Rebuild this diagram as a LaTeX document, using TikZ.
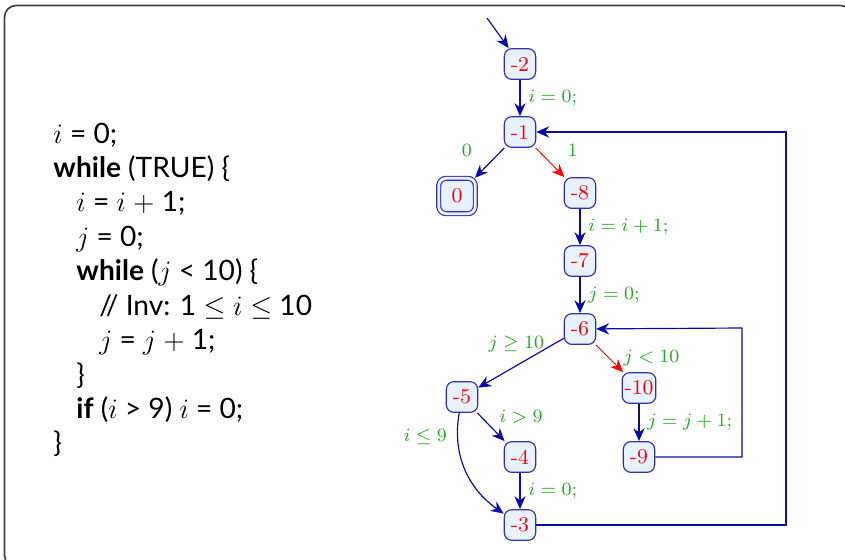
\documentclass[tikz,border=0pt]{standalone}
\usepackage{amsmath,amssymb}
\usepackage{xcolor}
\usepackage{fontspec}
\newfontfamily\codefont{Lato}
\usepackage{tikz}
\usetikzlibrary{arrows.meta,positioning}

\definecolor{statedraw}{RGB}{50,50,175}
\definecolor{statefill}{RGB}{232,242,255}
\definecolor{lblgreen}{RGB}{40,165,40}
\definecolor{flowblue}{RGB}{10,10,165}

\newcommand{\ind}{\hspace*{0.345cm}}

\begin{document}
\begin{tikzpicture}[x=0.015cm, y=-0.015cm,
  state/.style={draw=statedraw, fill=statefill, text=red, rounded corners=3.2pt,
    minimum width=0.47cm, minimum height=0.46cm, inner sep=1pt, line width=0.5pt,
    font=\fontsize{9}{10}\selectfont},
  final/.style={state, double=statefill, double distance=1.2pt,
    minimum width=0.55cm, minimum height=0.53cm},
  flow/.style={draw=flowblue, line width=0.5pt, -{Stealth[length=5.5pt, width=4.8pt]}},
  flowred/.style={flow, draw=red, line width=0.4pt},
  lbl/.style={text=lblgreen, font=\fontsize{8.5}{10}\selectfont},
  code/.style={align=left, inner sep=0pt, font=\codefont\fontsize{12}{14.7}\selectfont},
  frame/.style={draw=black!75, line width=0.7pt, rounded corners=5pt}
]
\useasboundingbox (0,0) rectangle (845,560);
\draw[frame] (4.5,5.5) rectangle (852,567);

% program text
\node[code, anchor=base west] (prog) at (53,453) {%
$i$ = 0;\\
\textbf{while} (TRUE) \{\\
\ind$i$ = $i$ $+$ 1;\\
\ind$j$ = 0;\\
\ind\textbf{while} ($j$ < 10) \{\\
\ind\ind// Inv: 1 $\leq i \leq$ 10\\
\ind\ind$j$ = $j$ $+$ 1;\\
\ind\}\\
\ind\textbf{if} ($i$ > 9) $i$ = 0;\\
\}};

% control flow graph
\coordinate (entry) at (487,18);
\node[state] (n2) at (520,64) {-2};
\node[state] (n1) at (520,132) {-1};
\node[final] (n0) at (457,196) {0};
\node[state] (n8) at (580,193) {-8};
\node[state] (n7) at (580,261) {-7};
\node[state] (n6) at (580,329) {-6};
\node[state] (n5) at (462,397) {-5};
\node[state] (n10) at (639,388) {-10};
\node[state] (n4) at (520,457) {-4};
\node[state] (n9) at (639,457) {-9};
\node[state] (n3) at (520,525) {-3};
\coordinate (outerloop) at (786,132);
\coordinate (innerloop) at (742,328);

\draw[flow] (entry) -- (n2);
\draw[flow] (n2) -- node[lbl, right] {$i=0;$} (n1);
\draw[flow] (n1) -- node[lbl, above left=-1pt and 4pt] {$0$} (n0);
\draw[flowred] (n1) -- node[lbl, above right=-1pt and 4pt] {$1$} (n8);
\draw[flow] (n8) -- node[lbl, right] {$i=i+1;$} (n7);
\draw[flow] (n7) -- node[lbl, right] {$j=0;$} (n6);
\draw[flow] (n6) -- node[lbl, above=1pt, xshift=-2pt] {$j\geq 10$} (n5);
\draw[flowred] (n6) -- node[lbl, right=2.5pt] {$j<10$} (n10);
\draw[flow] (n10) -- node[lbl, right] {$j=j+1;$} (n9);
\draw[flow] (n5) -- node[lbl, above right=-2pt and 0pt] {$i>9$} (n4);
\draw[flow] (n5) to[out=-100, in=145] node[lbl, left=1pt, pos=0.2] {$i\leq 9$} (n3);
\draw[flow] (n4) -- node[lbl, right] {$i=0;$} (n3);
\draw[flow] (n9) -| (innerloop) -- (n6);
\draw[flow] (n3) -| (outerloop) -- (n1);
\end{tikzpicture}
\end{document}
